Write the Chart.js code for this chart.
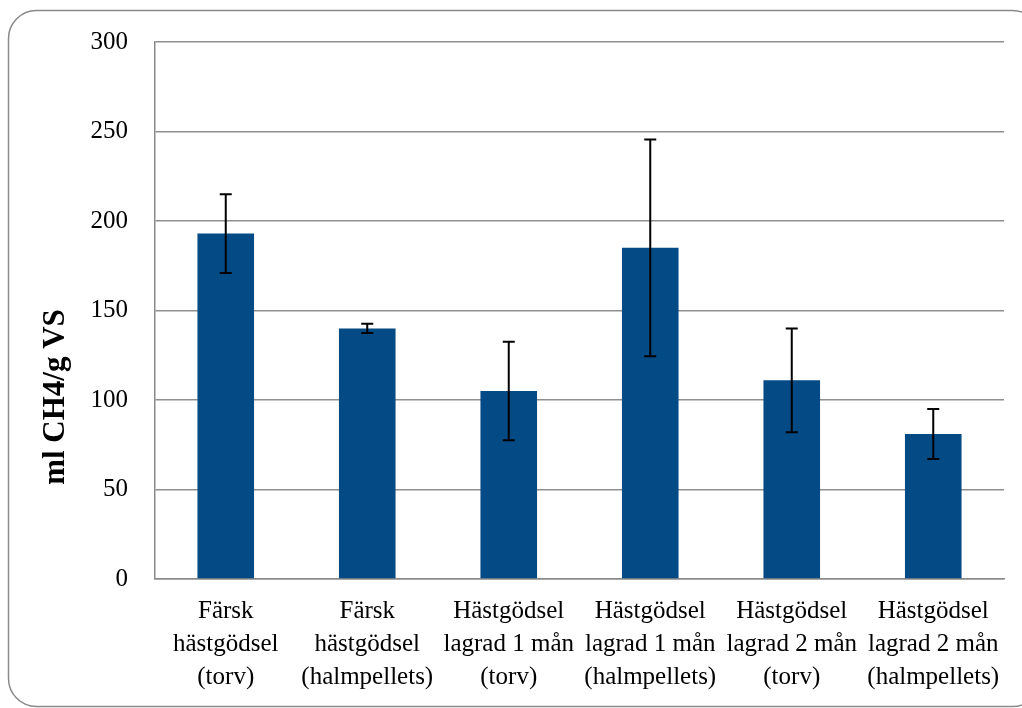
<!DOCTYPE html>
<html>
<head>
<meta charset="utf-8">
<script src="https://cdn.jsdelivr.net/npm/chart.js@4"></script>
<style>
  html, body { margin: 0; padding: 0; background: #fff; }
</style>
</head>
<body>
<canvas id="metanChart" width="1022" height="708"></canvas>
<script>
var categories = [
  ['Färsk', 'hästgödsel', '(torv)'],
  ['Färsk', 'hästgödsel', '(halmpellets)'],
  ['Hästgödsel', 'lagrad 1 mån', '(torv)'],
  ['Hästgödsel', 'lagrad 1 mån', '(halmpellets)'],
  ['Hästgödsel', 'lagrad 2 mån', '(torv)'],
  ['Hästgödsel', 'lagrad 2 mån', '(halmpellets)']
];
var methaneYield = [193, 140, 105, 185, 111, 81];
var yieldError = [22, 2.6, 27.5, 60.5, 29, 14];
var yTicks = [0, 50, 100, 150, 200, 250, 300];
var yTitle = 'ml CH4/g VS';

var serif = '"Liberation Serif", "Times New Roman", serif';

// rounded frame round the whole chart
var framePlugin = {
  id: 'frame',
  beforeDraw: function(chart) {
    var c = chart.ctx;
    c.save();
    c.fillStyle = '#fff';
    c.fillRect(0, 0, chart.width, chart.height);
    c.strokeStyle = '#8a8a8a';
    c.lineWidth = 1.5;
    c.beginPath();
    c.roundRect(8.5, 10.5, 1032, 696, 28);
    c.stroke();
    c.restore();
  }
};

// error bars drawn from the data through the y scale
var errorBarPlugin = {
  id: 'errorBars',
  afterDatasetsDraw: function(chart) {
    var c = chart.ctx;
    var y = chart.scales.y;
    var meta = chart.getDatasetMeta(0);
    c.save();
    c.strokeStyle = '#000';
    c.lineWidth = 2;
    meta.data.forEach(function(bar, i) {
      var top = y.getPixelForValue(methaneYield[i] + yieldError[i]);
      var bot = y.getPixelForValue(methaneYield[i] - yieldError[i]);
      c.beginPath();
      c.moveTo(bar.x, top); c.lineTo(bar.x, bot);
      c.moveTo(bar.x - 6, top); c.lineTo(bar.x + 6, top);
      c.moveTo(bar.x - 6, bot); c.lineTo(bar.x + 6, bot);
      c.stroke();
    });
    c.restore();
  }
};

// y axis title, placed like in the original (below the axis middle)
var yTitlePlugin = {
  id: 'yTitle',
  afterDraw: function(chart) {
    var c = chart.ctx;
    c.save();
    c.translate(56, 397);
    c.rotate(-Math.PI / 2);
    c.font = 'bold 31px ' + serif;
    c.fillStyle = '#000';
    c.textAlign = 'center';
    c.textBaseline = 'middle';
    c.fillText(yTitle, 0, 0);
    c.restore();
  }
};

var ctx = document.getElementById('metanChart').getContext('2d');
var metanChart = new Chart(ctx, {
  type: 'bar',
  data: {
    labels: categories,
    datasets: [{
      data: methaneYield,
      backgroundColor: '#044a84',
      borderWidth: 0,
      barPercentage: 0.4,
      categoryPercentage: 1
    }]
  },
  options: {
    responsive: false,
    animation: false,
    maintainAspectRatio: false,
    layout: { padding: { top: 40, right: 18, left: 0, bottom: 0 } },
    plugins: {
      legend: { display: false },
      tooltip: { enabled: false }
    },
    scales: {
      x: {
        grid: { display: false, drawTicks: false },
        border: { display: true, color: '#8a8a8a', width: 1.5 },
        ticks: {
          color: '#000',
          font: { family: serif, size: 25, lineHeight: 1.32 },
          padding: 16,
          maxRotation: 0,
          autoSkip: false
        },
        afterFit: function(scale) { scale.height = 129; }
      },
      y: {
        min: 0,
        max: 300,
        afterBuildTicks: function(scale) {
          scale.ticks = yTicks.map(function(v) { return { value: v }; });
        },
        grid: { color: '#8f8f8f', lineWidth: 1.5, drawTicks: false },
        border: { display: true, color: '#8a8a8a', width: 1.5 },
        ticks: {
          color: '#000',
          font: { family: serif, size: 25 },
          padding: 27
        },
        afterFit: function(scale) { scale.width = 155; }
      }
    }
  },
  plugins: [framePlugin, errorBarPlugin, yTitlePlugin]
});
</script>
</body>
</html>
